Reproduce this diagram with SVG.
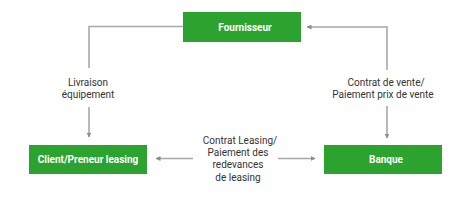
<svg xmlns="http://www.w3.org/2000/svg" width="470" height="200" viewBox="0 0 470 200">
<defs>
<marker id="ah" viewBox="0 0 10 10" refX="9" refY="5" markerWidth="5" markerHeight="5" orient="auto" markerUnits="userSpaceOnUse">
<path d="M0,0 L10,5 L0,10 z" fill="#8c8c8c"/>
</marker>
<style>
.box{fill:#2ca32f;}
.bt{font-family:Roboto,"Liberation Sans",sans-serif;font-size:10px;font-weight:bold;fill:#ffffff;text-anchor:middle;}
.lt{font-family:Roboto,"Liberation Sans",sans-serif;font-size:10px;fill:#333333;text-anchor:middle;}
.ln{fill:none;stroke:#a8a8a8;stroke-width:1.6;}
</style>
</defs>
<rect width="470" height="200" fill="#ffffff"/>
<g id="connectors">
<path class="ln" d="M183,26.5 H89 V68"/>
<path class="ln" d="M89,107 V137" marker-end="url(#ah)"/>
<path class="ln" d="M387,70 V27 H307" marker-end="url(#ah)"/>
<path class="ln" d="M387,106 V138" marker-end="url(#ah)"/>
<path class="ln" d="M193,158.5 H156" marker-end="url(#ah)"/>
<path class="ln" d="M278,158.5 H315" marker-end="url(#ah)"/>
<text class="lt" x="88" y="86">Livraison</text>
<text class="lt" x="88" y="98">équipement</text>
<text class="lt" x="386" y="86">Contrat de vente/</text>
<text class="lt" x="383" y="98">Paiement prix de vente</text>
<text class="lt" x="240" y="144">Contrat Leasing/</text>
<text class="lt" x="238" y="156">Paiement des</text>
<text class="lt" x="238" y="168">redevances</text>
<text class="lt" x="238" y="181">de leasing</text>
</g>
<g id="fournisseur">
<rect class="box" x="183" y="12" width="118" height="30"/>
<text class="bt" x="245" y="30.5">Fournisseur</text>
</g>
<g id="client">
<rect class="box" x="29" y="145" width="118" height="29"/>
<text class="bt" x="88" y="163">Client/Preneur leasing</text>
</g>
<g id="banque">
<rect class="box" x="324" y="145" width="118" height="29"/>
<text class="bt" x="386" y="163">Banque</text>
</g>
</svg>
